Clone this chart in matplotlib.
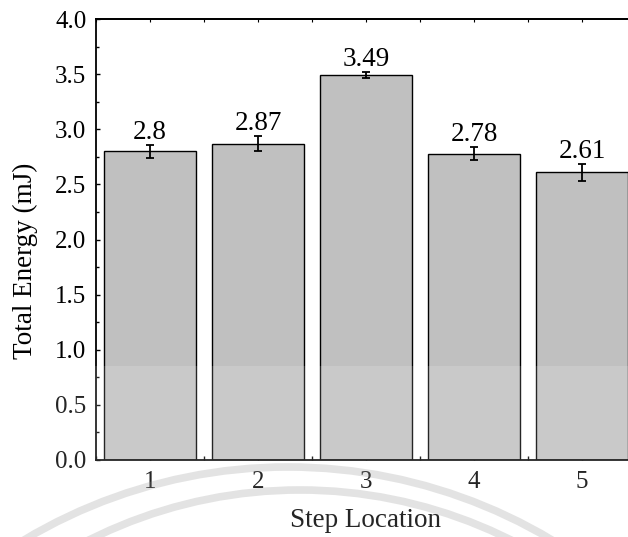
import matplotlib
matplotlib.use("Agg")
import matplotlib.pyplot as plt
from matplotlib.patches import Rectangle, Circle
from matplotlib.ticker import MultipleLocator, FormatStrFormatter

plt.rcParams["font.family"] = ["Liberation Serif", "DejaVu Serif"]

# Data
locations = [1, 2, 3, 4, 5]
tick_labels = ["1", "2", "3", "4", "5"]
total_energy = [2.8, 2.87, 3.49, 2.78, 2.61]
energy_err = [0.057, 0.068, 0.025, 0.055, 0.077]

W, H = 628, 537
fig = plt.figure(figsize=(W / 100, H / 100), dpi=100)
ax = fig.add_axes([96 / W, 77 / H, 540 / W, 441 / H])

ax.bar(locations, total_energy, width=0.85, color="#c0c0c0",
       edgecolor="black", linewidth=1.0, zorder=2,
       yerr=energy_err, capsize=3.2,
       error_kw=dict(elinewidth=1.3, capthick=1.3, ecolor="black", zorder=3))

for x, v, e in zip(locations, total_energy, energy_err):
    ax.annotate(f"{v}", (x, v + e), xytext=(0, 4.5), textcoords="offset points",
                ha="center", va="baseline", fontsize=19.5)

ax.set_xlim(0.5, 5.5)
ax.set_ylim(0, 4.0)
ax.set_xticks(locations)
ax.set_xticklabels(tick_labels)
ax.xaxis.set_minor_locator(MultipleLocator(0.5))
ax.yaxis.set_major_locator(MultipleLocator(0.5))
ax.yaxis.set_minor_locator(MultipleLocator(0.25))
ax.yaxis.set_major_formatter(FormatStrFormatter("%.1f"))

ax.tick_params(axis="both", which="both", direction="in", width=1.0,
               labelsize=18, zorder=5)
ax.tick_params(axis="y", which="major", length=3, pad=7)
ax.tick_params(axis="y", which="minor", length=2)
ax.tick_params(axis="x", which="major", length=6, pad=8)
ax.tick_params(axis="x", which="minor", length=3)

for side in ("left", "bottom", "top", "right"):
    ax.spines[side].set_linewidth(1.3)
    ax.spines[side].set_zorder(5)

top = ax.secondary_xaxis("top")
top.set_xticks(locations)
top.xaxis.set_minor_locator(MultipleLocator(0.5))
top.tick_params(axis="x", which="both", direction="in", length=2,
                width=0.8, labeltop=False)
top.spines["top"].set_linewidth(1.3)

ax.set_xlabel("Step Location", fontsize=19.5)
ax.set_ylabel("Total Energy (mJ)", fontsize=19.5)
ax.xaxis.set_label_coords(0.5, -0.108)
ax.yaxis.set_label_coords(-0.108, 0.451)

# Faint stamp across the lower part of the page
overlay = fig.add_axes([0, 0, 1, 1], zorder=10)
overlay.set_xlim(0, W)
overlay.set_ylim(H, 0)
overlay.axis("off")
overlay.patch.set_alpha(0)
overlay.add_patch(Rectangle((0, 366), W, H - 366, color="white", alpha=0.15, lw=0))
overlay.add_patch(Circle((288, 981), 514, fill=False, lw=5.5, color="#909090", alpha=0.25))
overlay.add_patch(Circle((300, 960), 470, fill=False, lw=5.5, color="#909090", alpha=0.25))

fig.savefig("out.png", dpi=100)
